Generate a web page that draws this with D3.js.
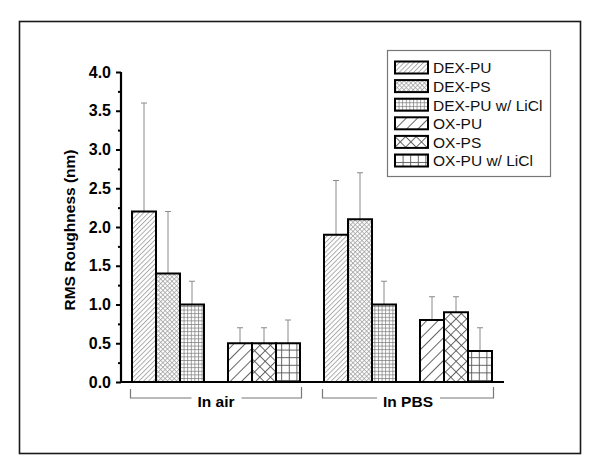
<!DOCTYPE html>
<html>
<head>
<meta charset="utf-8">
<script src="https://cdn.jsdelivr.net/npm/d3@7"></script>
<style>
  body { margin: 0; background: #fff; }
  text { font-family: Arial, "Liberation Sans", sans-serif; }
</style>
</head>
<body>
<script>
// data
var series = ["DEX-PU", "DEX-PS", "DEX-PU w/ LiCl", "OX-PU", "OX-PS", "OX-PU w/ LiCl"];
var conditions = ["In air", "In PBS"];
var groups = ["DEX in air", "OX in air", "DEX in PBS", "OX in PBS"];
var airValues = [2.2, 1.4, 1.0, 0.5, 0.5, 0.5];
var airErrors = [1.4, 0.8, 0.3, 0.2, 0.2, 0.3];
var pbsValues = [1.9, 2.1, 1.0, 0.8, 0.9, 0.4];
var pbsErrors = [0.7, 0.6, 0.3, 0.3, 0.2, 0.3];
var yTicks = [0, 0.5, 1, 1.5, 2, 2.5, 3, 3.5, 4];
var yMinorTicks = [0.25, 0.75, 1.25, 1.75, 2.25, 2.75, 3.25, 3.75];

var w = 600, h = 474;
var svg = d3.select("body").append("svg").attr("width", w).attr("height", h);

// frame
svg.append("rect").attr("x", 19.5).attr("y", 21.5).attr("width", 561).attr("height", 432)
    .attr("fill", "none").attr("stroke", "#1a1a1a").attr("stroke-width", 1.6);

// patterns
var defs = svg.append("defs");
var patDefs = [
  {id: "p0", size: 3.4, lines: ["v"], rot: 45, color: "#8a8a8a", sw: 0.7},
  {id: "p1", size: 3.2, lines: ["v", "h"], rot: 45, color: "#999", sw: 0.7},
  {id: "p2", size: 3.6, lines: ["v", "h"], rot: 0, color: "#777", sw: 0.7},
  {id: "p3", size: 8, lines: ["v"], rot: 45, color: "#555", sw: 0.9},
  {id: "p4", size: 7.5, lines: ["v", "h"], rot: 45, color: "#555", sw: 0.9},
  {id: "p5", size: 7.6, lines: ["v", "h"], rot: 0, color: "#555", sw: 0.9}
];
patDefs.forEach(function(p) {
  var pat = defs.append("pattern").attr("id", p.id)
      .attr("patternUnits", "userSpaceOnUse")
      .attr("width", p.size).attr("height", p.size)
      .attr("patternTransform", "rotate(" + p.rot + ")");
  pat.append("rect").attr("width", p.size).attr("height", p.size).attr("fill", "#fff");
  p.lines.forEach(function(l) {
    if (l == "v") pat.append("line").attr("x1", 0.5).attr("x2", 0.5).attr("y1", 0).attr("y2", p.size);
    else pat.append("line").attr("y1", 0.5).attr("y2", 0.5).attr("x1", 0).attr("x2", p.size);
  });
  pat.selectAll("line").attr("stroke", p.color).attr("stroke-width", p.sw);
});

var x = d3.scaleBand().domain(groups).range([120, 504]).paddingInner(0.25).paddingOuter(0.125);
var xSub = d3.scaleBand().domain([0, 1, 2]).range([0, x.bandwidth()]);
var y = d3.scaleLinear().domain([0, 4]).range([382, 72]);

var bars = [];
conditions.forEach(function(c, ci) {
  var vals = ci == 0 ? airValues : pbsValues;
  var errs = ci == 0 ? airErrors : pbsErrors;
  series.forEach(function(s, si) {
    bars.push({group: groups[ci * 2 + (si < 3 ? 0 : 1)], sub: si % 3, s: si, v: vals[si], e: errs[si]});
  });
});

function barX(d) { return x(d.group) + xSub(d.sub); }

// error bars (upper only)
var eb = svg.append("g").attr("stroke", "#8a8a8a").attr("stroke-width", 1);
eb.selectAll("line.v").data(bars).enter().append("line")
    .attr("x1", function(d) { return barX(d) + xSub.bandwidth() / 2; })
    .attr("x2", function(d) { return barX(d) + xSub.bandwidth() / 2; })
    .attr("y1", function(d) { return y(d.v); })
    .attr("y2", function(d) { return y(d.v + d.e); });
eb.selectAll("line.c").data(bars).enter().append("line")
    .attr("x1", function(d) { return barX(d) + xSub.bandwidth() / 2 - 3; })
    .attr("x2", function(d) { return barX(d) + xSub.bandwidth() / 2 + 3; })
    .attr("y1", function(d) { return y(d.v + d.e); })
    .attr("y2", function(d) { return y(d.v + d.e); });

// bars
svg.append("g").selectAll("rect").data(bars).enter().append("rect")
    .attr("x", barX)
    .attr("y", function(d) { return y(d.v); })
    .attr("width", xSub.bandwidth())
    .attr("height", function(d) { return y(0) - y(d.v); })
    .attr("fill", function(d) { return "url(#p" + d.s + ")"; })
    .attr("stroke", "#000").attr("stroke-width", 2);

// axes
var yAxis = svg.append("g").attr("transform", "translate(121,0)")
    .call(d3.axisLeft(y).tickValues(yTicks).tickFormat(d3.format(".1f")).tickSize(5).tickPadding(5));
yAxis.select(".domain").attr("stroke-width", 2.2).attr("d", "M0," + y(4) + "V" + y(0));
yAxis.selectAll(".tick line").attr("stroke-width", 2);
yAxis.selectAll(".tick text").attr("font-size", 16).attr("font-weight", "bold").attr("fill", "#000")
    .attr("font-family", "Arial, 'Liberation Sans', sans-serif");
svg.append("g").attr("transform", "translate(121,0)")
    .call(d3.axisLeft(y).tickValues(yMinorTicks).tickFormat("").tickSize(3))
    .call(function(g) { g.select(".domain").remove(); })
    .selectAll(".tick line").attr("stroke-width", 2);

svg.append("line").attr("x1", 120).attr("x2", 504).attr("y1", y(0)).attr("y2", y(0))
    .attr("stroke", "#000").attr("stroke-width", 2.2);

svg.append("text").attr("transform", "translate(75,230) rotate(-90)")
    .attr("text-anchor", "middle").attr("font-size", 15.5).attr("font-weight", "bold")
    .text("RMS Roughness (nm)");

// condition brackets
conditions.forEach(function(c, ci) {
  var x0 = x(groups[ci * 2]) - 1.5, x1 = x(groups[ci * 2 + 1]) + x.bandwidth() + 1.5;
  var ly = 398;
  var t = svg.append("text").attr("x", (x0 + x1) / 2).attr("y", 406.5)
      .attr("text-anchor", "middle").attr("font-size", 15.5).attr("font-weight", "bold").text(c);
  var bb = t.node().getBBox();
  var gb = svg.append("g").attr("stroke", "#777").attr("stroke-width", 1.2).attr("fill", "none");
  gb.append("path").attr("d", "M" + x0 + "," + (ly - 9) + "V" + ly + "H" + (bb.x - 6));
  gb.append("path").attr("d", "M" + (bb.x + bb.width + 7) + "," + ly + "H" + x1 + "V" + (ly - 11));
});

// legend
var lg = svg.append("g");
lg.append("rect").attr("x", 387.5).attr("y", 50.5).attr("width", 163).attr("height", 126)
    .attr("fill", "#fff").attr("stroke", "#777").attr("stroke-width", 1.2);
var items = lg.selectAll("g").data(series).enter().append("g")
    .attr("transform", function(d, i) { return "translate(395," + (61.5 + i * 18.6) + ")"; });
items.append("rect").attr("width", 33).attr("height", 12)
    .attr("fill", function(d, i) { return "url(#p" + i + ")"; })
    .attr("stroke", "#000").attr("stroke-width", 2);
items.append("text").attr("x", 38).attr("y", 11.8).attr("font-size", 15.5).attr("fill", "#111")
    .text(function(d) { return d; });
</script>
</body>
</html>
